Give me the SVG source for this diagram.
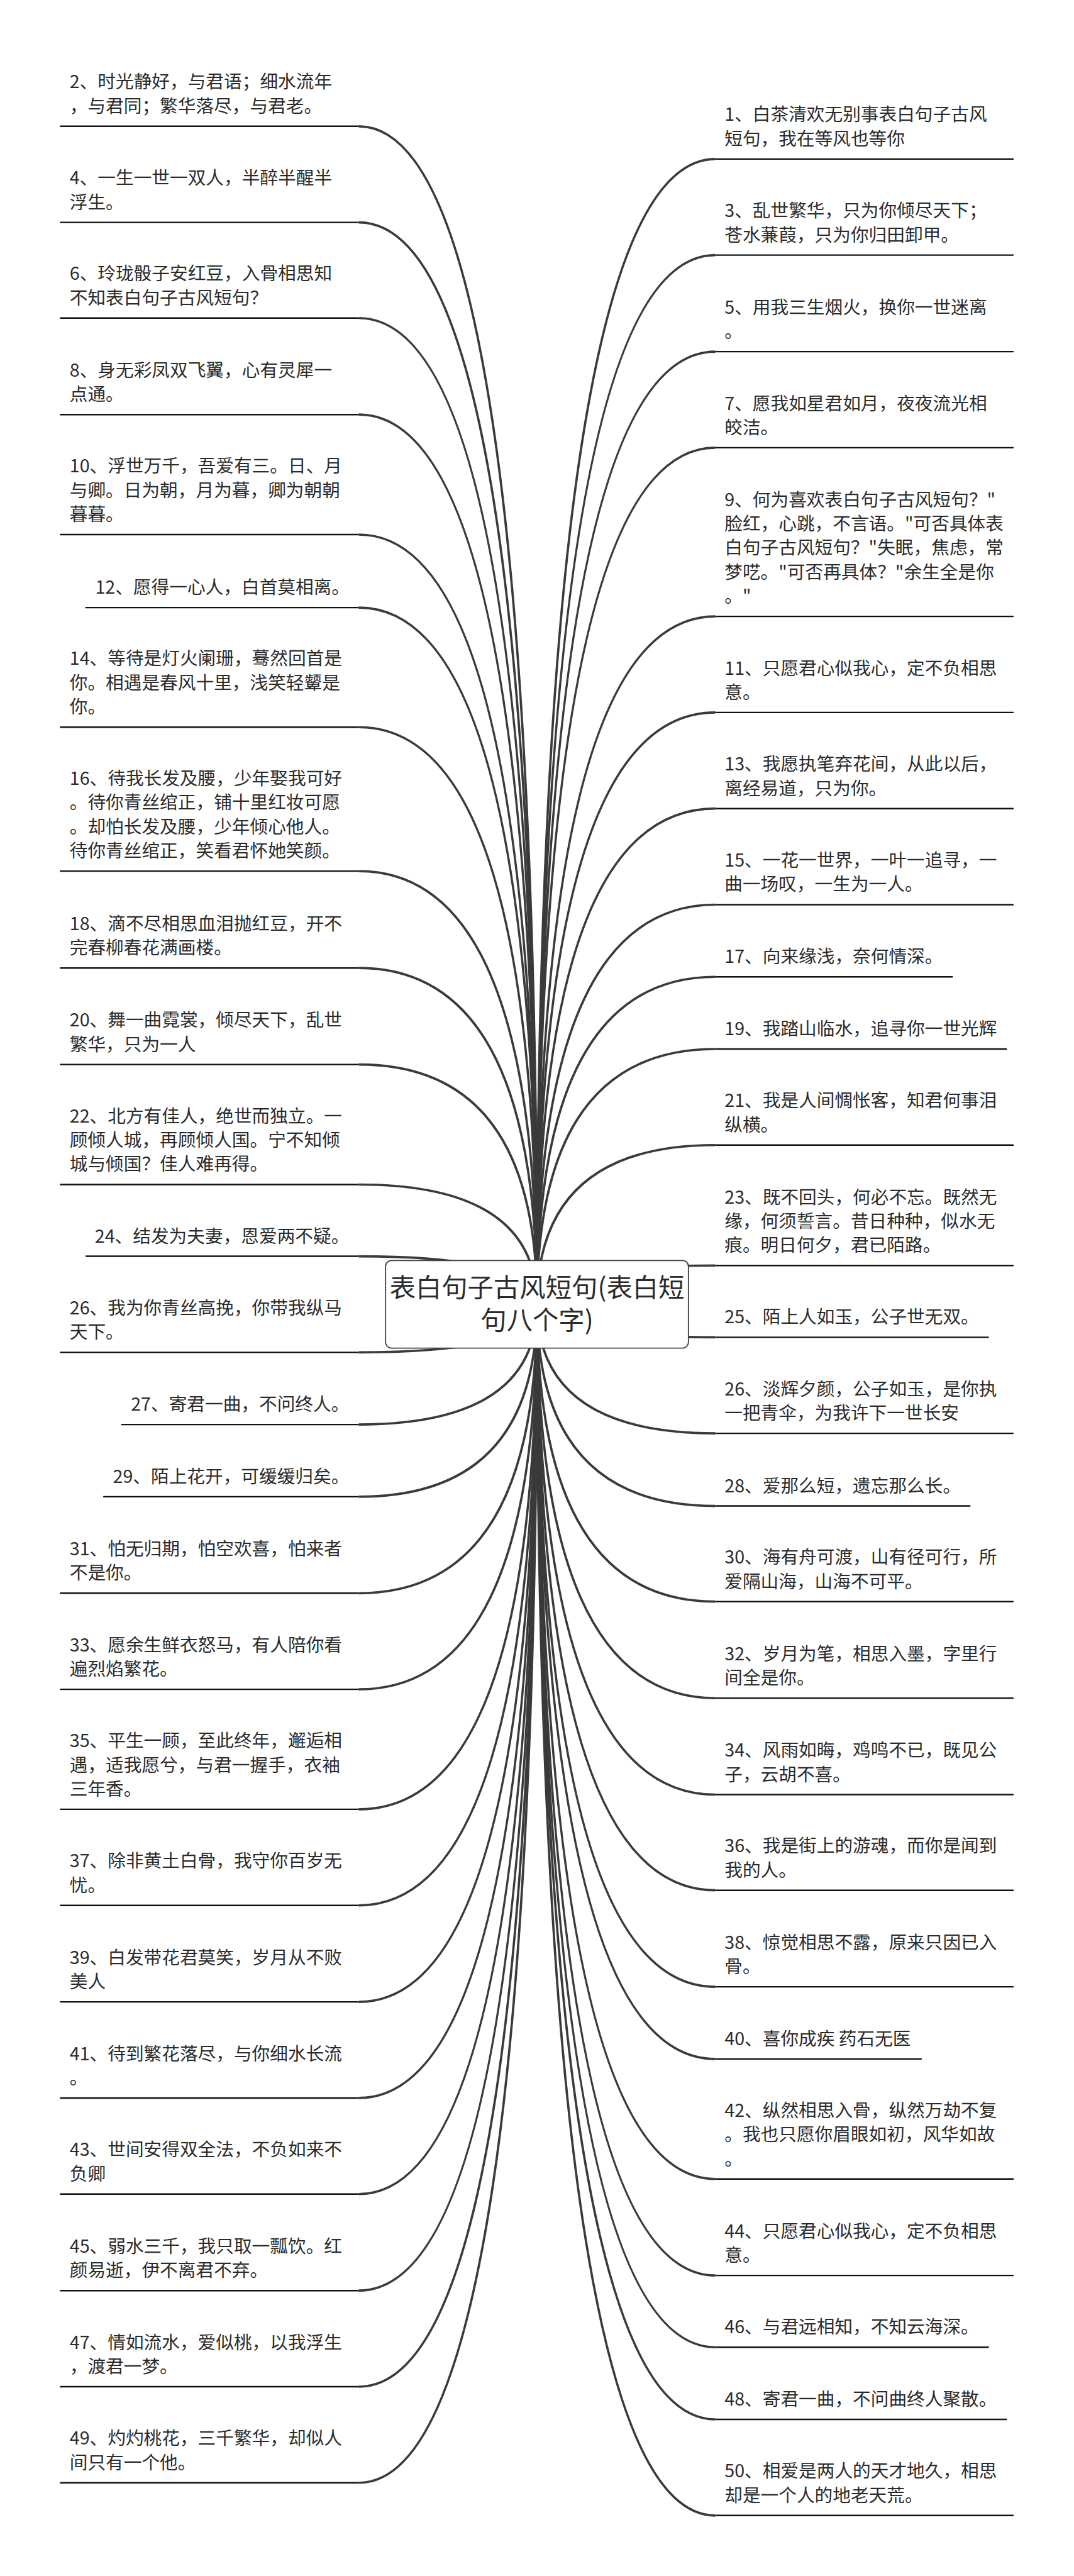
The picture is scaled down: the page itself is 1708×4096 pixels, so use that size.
<svg xmlns="http://www.w3.org/2000/svg" width="1708" height="4096" viewBox="0 0 1708 4096">
<style>
.t{font-family:"Noto Sans CJK SC","Noto Sans",sans-serif;font-size:43px;fill:#2b2b2b}
.u{stroke:#111;stroke-width:3.6;fill:none}
.c{stroke:#3a3a3a;stroke-width:5.5;fill:none}
.box{fill:#fff;stroke:#444;stroke-width:2.8}
.ct{font-family:"Noto Sans CJK SC","Noto Sans",sans-serif;font-size:62px;fill:#2b2b2b;text-anchor:middle}
</style>
<rect x="0" y="0" width="1708" height="4096" fill="#fff"/>
<g transform="scale(0.66719)">
<g id="connectors">
<path class="c" d="M855,301 Q1280,301 1280,3109"/>
<path class="c" d="M855,530 Q1280,530 1280,3109"/>
<path class="c" d="M855,758 Q1280,758 1280,3109"/>
<path class="c" d="M855,988 Q1280,988 1280,3109"/>
<path class="c" d="M855,1274 Q1280,1274 1280,3109"/>
<path class="c" d="M855,1448 Q1280,1448 1280,3109"/>
<path class="c" d="M855,1733 Q1280,1733 1280,3109"/>
<path class="c" d="M855,2076 Q1280,2076 1280,3109"/>
<path class="c" d="M855,2307 Q1280,2307 1280,3109"/>
<path class="c" d="M855,2537 Q1280,2537 1280,3109"/>
<path class="c" d="M855,2823 Q1280,2823 1280,3109"/>
<path class="c" d="M855,2994 Q1280,2994 1280,3109"/>
<path class="c" d="M855,3223 Q1280,3223 1280,3109"/>
<path class="c" d="M855,3395 Q1280,3395 1280,3109"/>
<path class="c" d="M855,3567 Q1280,3567 1280,3109"/>
<path class="c" d="M855,3797 Q1280,3797 1280,3109"/>
<path class="c" d="M855,4026 Q1280,4026 1280,3109"/>
<path class="c" d="M855,4312 Q1280,4312 1280,3109"/>
<path class="c" d="M855,4541 Q1280,4541 1280,3109"/>
<path class="c" d="M855,4771 Q1280,4771 1280,3109"/>
<path class="c" d="M855,5000 Q1280,5000 1280,3109"/>
<path class="c" d="M855,5229 Q1280,5229 1280,3109"/>
<path class="c" d="M855,5459 Q1280,5459 1280,3109"/>
<path class="c" d="M855,5688 Q1280,5688 1280,3109"/>
<path class="c" d="M855,5917 Q1280,5917 1280,3109"/>
<path class="c" d="M1705,379 Q1280,379 1280,3109"/>
<path class="c" d="M1705,608 Q1280,608 1280,3109"/>
<path class="c" d="M1705,838 Q1280,838 1280,3109"/>
<path class="c" d="M1705,1067 Q1280,1067 1280,3109"/>
<path class="c" d="M1705,1469 Q1280,1469 1280,3109"/>
<path class="c" d="M1705,1698 Q1280,1698 1280,3109"/>
<path class="c" d="M1705,1927 Q1280,1927 1280,3109"/>
<path class="c" d="M1705,2156 Q1280,2156 1280,3109"/>
<path class="c" d="M1705,2328 Q1280,2328 1280,3109"/>
<path class="c" d="M1705,2500 Q1280,2500 1280,3109"/>
<path class="c" d="M1705,2729 Q1280,2729 1280,3109"/>
<path class="c" d="M1705,3016 Q1280,3016 1280,3109"/>
<path class="c" d="M1705,3187 Q1280,3187 1280,3109"/>
<path class="c" d="M1705,3416 Q1280,3416 1280,3109"/>
<path class="c" d="M1705,3589 Q1280,3589 1280,3109"/>
<path class="c" d="M1705,3817 Q1280,3817 1280,3109"/>
<path class="c" d="M1705,4047 Q1280,4047 1280,3109"/>
<path class="c" d="M1705,4277 Q1280,4277 1280,3109"/>
<path class="c" d="M1705,4505 Q1280,4505 1280,3109"/>
<path class="c" d="M1705,4735 Q1280,4735 1280,3109"/>
<path class="c" d="M1705,4907 Q1280,4907 1280,3109"/>
<path class="c" d="M1705,5193 Q1280,5193 1280,3109"/>
<path class="c" d="M1705,5423 Q1280,5423 1280,3109"/>
<path class="c" d="M1705,5594 Q1280,5594 1280,3109"/>
<path class="c" d="M1705,5766 Q1280,5766 1280,3109"/>
<path class="c" d="M1705,5995 Q1280,5995 1280,3109"/>
</g>
<g id="root">
<rect class="box" x="919" y="3004" width="722" height="209" rx="14"/>
<text class="ct"><tspan x="1280" y="3090">表白句子古风短句(表白短</tspan><tspan x="1280" y="3169">句八个字)</tspan></text>
</g>
<g id="n2"><text class="t"><tspan x="166" y="210.5">2、时光静好，与君语；细水流年</tspan><tspan x="166" y="268">，与君同；繁华落尽，与君老。</tspan></text><line class="u" x1="143" y1="301" x2="855" y2="301"/></g>
<g id="n4"><text class="t"><tspan x="166" y="439.5">4、一生一世一双人，半醉半醒半</tspan><tspan x="166" y="497">浮生。</tspan></text><line class="u" x1="143" y1="530" x2="855" y2="530"/></g>
<g id="n6"><text class="t"><tspan x="166" y="667.5">6、玲珑骰子安红豆，入骨相思知</tspan><tspan x="166" y="725">不知表白句子古风短句？</tspan></text><line class="u" x1="143" y1="758" x2="855" y2="758"/></g>
<g id="n8"><text class="t"><tspan x="166" y="897.5">8、身无彩凤双飞翼，心有灵犀一</tspan><tspan x="166" y="955">点通。</tspan></text><line class="u" x1="143" y1="988" x2="855" y2="988"/></g>
<g id="n10"><text class="t"><tspan x="166" y="1126">10、浮世万千，吾爱有三。日、月</tspan><tspan x="166" y="1183.5">与卿。日为朝，月为暮，卿为朝朝</tspan><tspan x="166" y="1241">暮暮。</tspan></text><line class="u" x1="143" y1="1274" x2="855" y2="1274"/></g>
<g id="n12"><text class="t"><tspan x="227" y="1415">12、愿得一心人，白首莫相离。</tspan></text><line class="u" x1="203" y1="1448" x2="855" y2="1448"/></g>
<g id="n14"><text class="t"><tspan x="166" y="1585">14、等待是灯火阑珊，蓦然回首是</tspan><tspan x="166" y="1642.5">你。相遇是春风十里，浅笑轻颦是</tspan><tspan x="166" y="1700">你。</tspan></text><line class="u" x1="143" y1="1733" x2="855" y2="1733"/></g>
<g id="n16"><text class="t"><tspan x="166" y="1870.5">16、待我长发及腰，少年娶我可好</tspan><tspan x="166" y="1928">。待你青丝绾正，铺十里红妆可愿</tspan><tspan x="166" y="1985.5">。却怕长发及腰，少年倾心他人。</tspan><tspan x="166" y="2043">待你青丝绾正，笑看君怀她笑颜。</tspan></text><line class="u" x1="143" y1="2076" x2="855" y2="2076"/></g>
<g id="n18"><text class="t"><tspan x="166" y="2216.5">18、滴不尽相思血泪抛红豆，开不</tspan><tspan x="166" y="2274">完春柳春花满画楼。</tspan></text><line class="u" x1="143" y1="2307" x2="855" y2="2307"/></g>
<g id="n20"><text class="t"><tspan x="166" y="2446.5">20、舞一曲霓裳，倾尽天下，乱世</tspan><tspan x="166" y="2504">繁华，只为一人</tspan></text><line class="u" x1="143" y1="2537" x2="855" y2="2537"/></g>
<g id="n22"><text class="t"><tspan x="166" y="2675">22、北方有佳人，绝世而独立。一</tspan><tspan x="166" y="2732.5">顾倾人城，再顾倾人国。宁不知倾</tspan><tspan x="166" y="2790">城与倾国？佳人难再得。</tspan></text><line class="u" x1="143" y1="2823" x2="855" y2="2823"/></g>
<g id="n24"><text class="t"><tspan x="226" y="2961">24、结发为夫妻，恩爱两不疑。</tspan></text><line class="u" x1="204" y1="2994" x2="855" y2="2994"/></g>
<g id="n26a"><text class="t"><tspan x="166" y="3132.5">26、我为你青丝高挽，你带我纵马</tspan><tspan x="166" y="3190">天下。</tspan></text><line class="u" x1="143" y1="3223" x2="855" y2="3223"/></g>
<g id="n27"><text class="t"><tspan x="312" y="3362">27、寄君一曲，不问终人。</tspan></text><line class="u" x1="289" y1="3395" x2="855" y2="3395"/></g>
<g id="n29"><text class="t"><tspan x="269" y="3534">29、陌上花开，可缓缓归矣。</tspan></text><line class="u" x1="246" y1="3567" x2="855" y2="3567"/></g>
<g id="n31"><text class="t"><tspan x="166" y="3706.5">31、怕无归期，怕空欢喜，怕来者</tspan><tspan x="166" y="3764">不是你。</tspan></text><line class="u" x1="143" y1="3797" x2="855" y2="3797"/></g>
<g id="n33"><text class="t"><tspan x="166" y="3935.5">33、愿余生鲜衣怒马，有人陪你看</tspan><tspan x="166" y="3993">遍烈焰繁花。</tspan></text><line class="u" x1="143" y1="4026" x2="855" y2="4026"/></g>
<g id="n35"><text class="t"><tspan x="166" y="4164">35、平生一顾，至此终年，邂逅相</tspan><tspan x="166" y="4221.5">遇，适我愿兮，与君一握手，衣袖</tspan><tspan x="166" y="4279">三年香。</tspan></text><line class="u" x1="143" y1="4312" x2="855" y2="4312"/></g>
<g id="n37"><text class="t"><tspan x="166" y="4450.5">37、除非黄土白骨，我守你百岁无</tspan><tspan x="166" y="4508">忧。</tspan></text><line class="u" x1="143" y1="4541" x2="855" y2="4541"/></g>
<g id="n39"><text class="t"><tspan x="166" y="4680.5">39、白发带花君莫笑，岁月从不败</tspan><tspan x="166" y="4738">美人</tspan></text><line class="u" x1="143" y1="4771" x2="855" y2="4771"/></g>
<g id="n41"><text class="t"><tspan x="166" y="4909.5">41、待到繁花落尽，与你细水长流</tspan><tspan x="166" y="4967">。</tspan></text><line class="u" x1="143" y1="5000" x2="855" y2="5000"/></g>
<g id="n43"><text class="t"><tspan x="166" y="5138.5">43、世间安得双全法，不负如来不</tspan><tspan x="166" y="5196">负卿</tspan></text><line class="u" x1="143" y1="5229" x2="855" y2="5229"/></g>
<g id="n45"><text class="t"><tspan x="166" y="5368.5">45、弱水三千，我只取一瓢饮。红</tspan><tspan x="166" y="5426">颜易逝，伊不离君不弃。</tspan></text><line class="u" x1="143" y1="5459" x2="855" y2="5459"/></g>
<g id="n47"><text class="t"><tspan x="166" y="5597.5">47、情如流水，爱似桃，以我浮生</tspan><tspan x="166" y="5655">，渡君一梦。</tspan></text><line class="u" x1="143" y1="5688" x2="855" y2="5688"/></g>
<g id="n49"><text class="t"><tspan x="166" y="5826.5">49、灼灼桃花，三千繁华，却似人</tspan><tspan x="166" y="5884">间只有一个他。</tspan></text><line class="u" x1="143" y1="5917" x2="855" y2="5917"/></g>
<g id="n1"><text class="t"><tspan x="1727" y="288.5">1、白茶清欢无别事表白句子古风</tspan><tspan x="1727" y="346">短句，我在等风也等你</tspan></text><line class="u" x1="1705" y1="379" x2="2416" y2="379"/></g>
<g id="n3"><text class="t"><tspan x="1727" y="517.5">3、乱世繁华，只为你倾尽天下；</tspan><tspan x="1727" y="575">苍水蒹葭，只为你归田卸甲。</tspan></text><line class="u" x1="1705" y1="608" x2="2416" y2="608"/></g>
<g id="n5"><text class="t"><tspan x="1727" y="747.5">5、用我三生烟火，换你一世迷离</tspan><tspan x="1727" y="805">。</tspan></text><line class="u" x1="1705" y1="838" x2="2416" y2="838"/></g>
<g id="n7"><text class="t"><tspan x="1727" y="976.5">7、愿我如星君如月，夜夜流光相</tspan><tspan x="1727" y="1034">皎洁。</tspan></text><line class="u" x1="1705" y1="1067" x2="2416" y2="1067"/></g>
<g id="n9"><text class="t"><tspan x="1727" y="1206">9、何为喜欢表白句子古风短句？"</tspan><tspan x="1727" y="1263.5">脸红，心跳，不言语。"可否具体表</tspan><tspan x="1727" y="1321">白句子古风短句？"失眠，焦虑，常</tspan><tspan x="1727" y="1378.5">梦呓。"可否再具体？"余生全是你</tspan><tspan x="1727" y="1436">。"</tspan></text><line class="u" x1="1705" y1="1469" x2="2416" y2="1469"/></g>
<g id="n11"><text class="t"><tspan x="1727" y="1607.5">11、只愿君心似我心，定不负相思</tspan><tspan x="1727" y="1665">意。</tspan></text><line class="u" x1="1705" y1="1698" x2="2416" y2="1698"/></g>
<g id="n13"><text class="t"><tspan x="1727" y="1836.5">13、我愿执笔弃花间，从此以后，</tspan><tspan x="1727" y="1894">离经易道，只为你。</tspan></text><line class="u" x1="1705" y1="1927" x2="2416" y2="1927"/></g>
<g id="n15"><text class="t"><tspan x="1727" y="2065.5">15、一花一世界，一叶一追寻，一</tspan><tspan x="1727" y="2123">曲一场叹，一生为一人。</tspan></text><line class="u" x1="1705" y1="2156" x2="2416" y2="2156"/></g>
<g id="n17"><text class="t"><tspan x="1727" y="2295">17、向来缘浅，奈何情深。</tspan></text><line class="u" x1="1705" y1="2328" x2="2271" y2="2328"/></g>
<g id="n19"><text class="t"><tspan x="1727" y="2467">19、我踏山临水，追寻你一世光辉</tspan></text><line class="u" x1="1705" y1="2500" x2="2400" y2="2500"/></g>
<g id="n21"><text class="t"><tspan x="1727" y="2638.5">21、我是人间惆怅客，知君何事泪</tspan><tspan x="1727" y="2696">纵横。</tspan></text><line class="u" x1="1705" y1="2729" x2="2416" y2="2729"/></g>
<g id="n23"><text class="t"><tspan x="1727" y="2868">23、既不回头，何必不忘。既然无</tspan><tspan x="1727" y="2925.5">缘，何须誓言。昔日种种，似水无</tspan><tspan x="1727" y="2983">痕。明日何夕，君已陌路。</tspan></text><line class="u" x1="1705" y1="3016" x2="2416" y2="3016"/></g>
<g id="n25"><text class="t"><tspan x="1727" y="3154">25、陌上人如玉，公子世无双。</tspan></text><line class="u" x1="1705" y1="3187" x2="2357" y2="3187"/></g>
<g id="n26b"><text class="t"><tspan x="1727" y="3325.5">26、淡辉夕颜，公子如玉，是你执</tspan><tspan x="1727" y="3383">一把青伞，为我许下一世长安</tspan></text><line class="u" x1="1705" y1="3416" x2="2416" y2="3416"/></g>
<g id="n28"><text class="t"><tspan x="1727" y="3556">28、爱那么短，遗忘那么长。</tspan></text><line class="u" x1="1705" y1="3589" x2="2313" y2="3589"/></g>
<g id="n30"><text class="t"><tspan x="1727" y="3726.5">30、海有舟可渡，山有径可行，所</tspan><tspan x="1727" y="3784">爱隔山海，山海不可平。</tspan></text><line class="u" x1="1705" y1="3817" x2="2416" y2="3817"/></g>
<g id="n32"><text class="t"><tspan x="1727" y="3956.5">32、岁月为笔，相思入墨，字里行</tspan><tspan x="1727" y="4014">间全是你。</tspan></text><line class="u" x1="1705" y1="4047" x2="2416" y2="4047"/></g>
<g id="n34"><text class="t"><tspan x="1727" y="4186.5">34、风雨如晦，鸡鸣不已，既见公</tspan><tspan x="1727" y="4244">子，云胡不喜。</tspan></text><line class="u" x1="1705" y1="4277" x2="2416" y2="4277"/></g>
<g id="n36"><text class="t"><tspan x="1727" y="4414.5">36、我是街上的游魂，而你是闻到</tspan><tspan x="1727" y="4472">我的人。</tspan></text><line class="u" x1="1705" y1="4505" x2="2416" y2="4505"/></g>
<g id="n38"><text class="t"><tspan x="1727" y="4644.5">38、惊觉相思不露，原来只因已入</tspan><tspan x="1727" y="4702">骨。</tspan></text><line class="u" x1="1705" y1="4735" x2="2416" y2="4735"/></g>
<g id="n40"><text class="t"><tspan x="1727" y="4874">40、喜你成疾 药石无医</tspan></text><line class="u" x1="1705" y1="4907" x2="2197" y2="4907"/></g>
<g id="n42"><text class="t"><tspan x="1727" y="5045">42、纵然相思入骨，纵然万劫不复</tspan><tspan x="1727" y="5102.5">。我也只愿你眉眼如初，风华如故</tspan><tspan x="1727" y="5160">。</tspan></text><line class="u" x1="1705" y1="5193" x2="2416" y2="5193"/></g>
<g id="n44"><text class="t"><tspan x="1727" y="5332.5">44、只愿君心似我心，定不负相思</tspan><tspan x="1727" y="5390">意。</tspan></text><line class="u" x1="1705" y1="5423" x2="2416" y2="5423"/></g>
<g id="n46"><text class="t"><tspan x="1727" y="5561">46、与君远相知，不知云海深。</tspan></text><line class="u" x1="1705" y1="5594" x2="2357" y2="5594"/></g>
<g id="n48"><text class="t"><tspan x="1727" y="5733">48、寄君一曲，不问曲终人聚散。</tspan></text><line class="u" x1="1705" y1="5766" x2="2400" y2="5766"/></g>
<g id="n50"><text class="t"><tspan x="1727" y="5904.5">50、相爱是两人的天才地久，相思</tspan><tspan x="1727" y="5962">却是一个人的地老天荒。</tspan></text><line class="u" x1="1705" y1="5995" x2="2416" y2="5995"/></g>
</g>
</svg>
